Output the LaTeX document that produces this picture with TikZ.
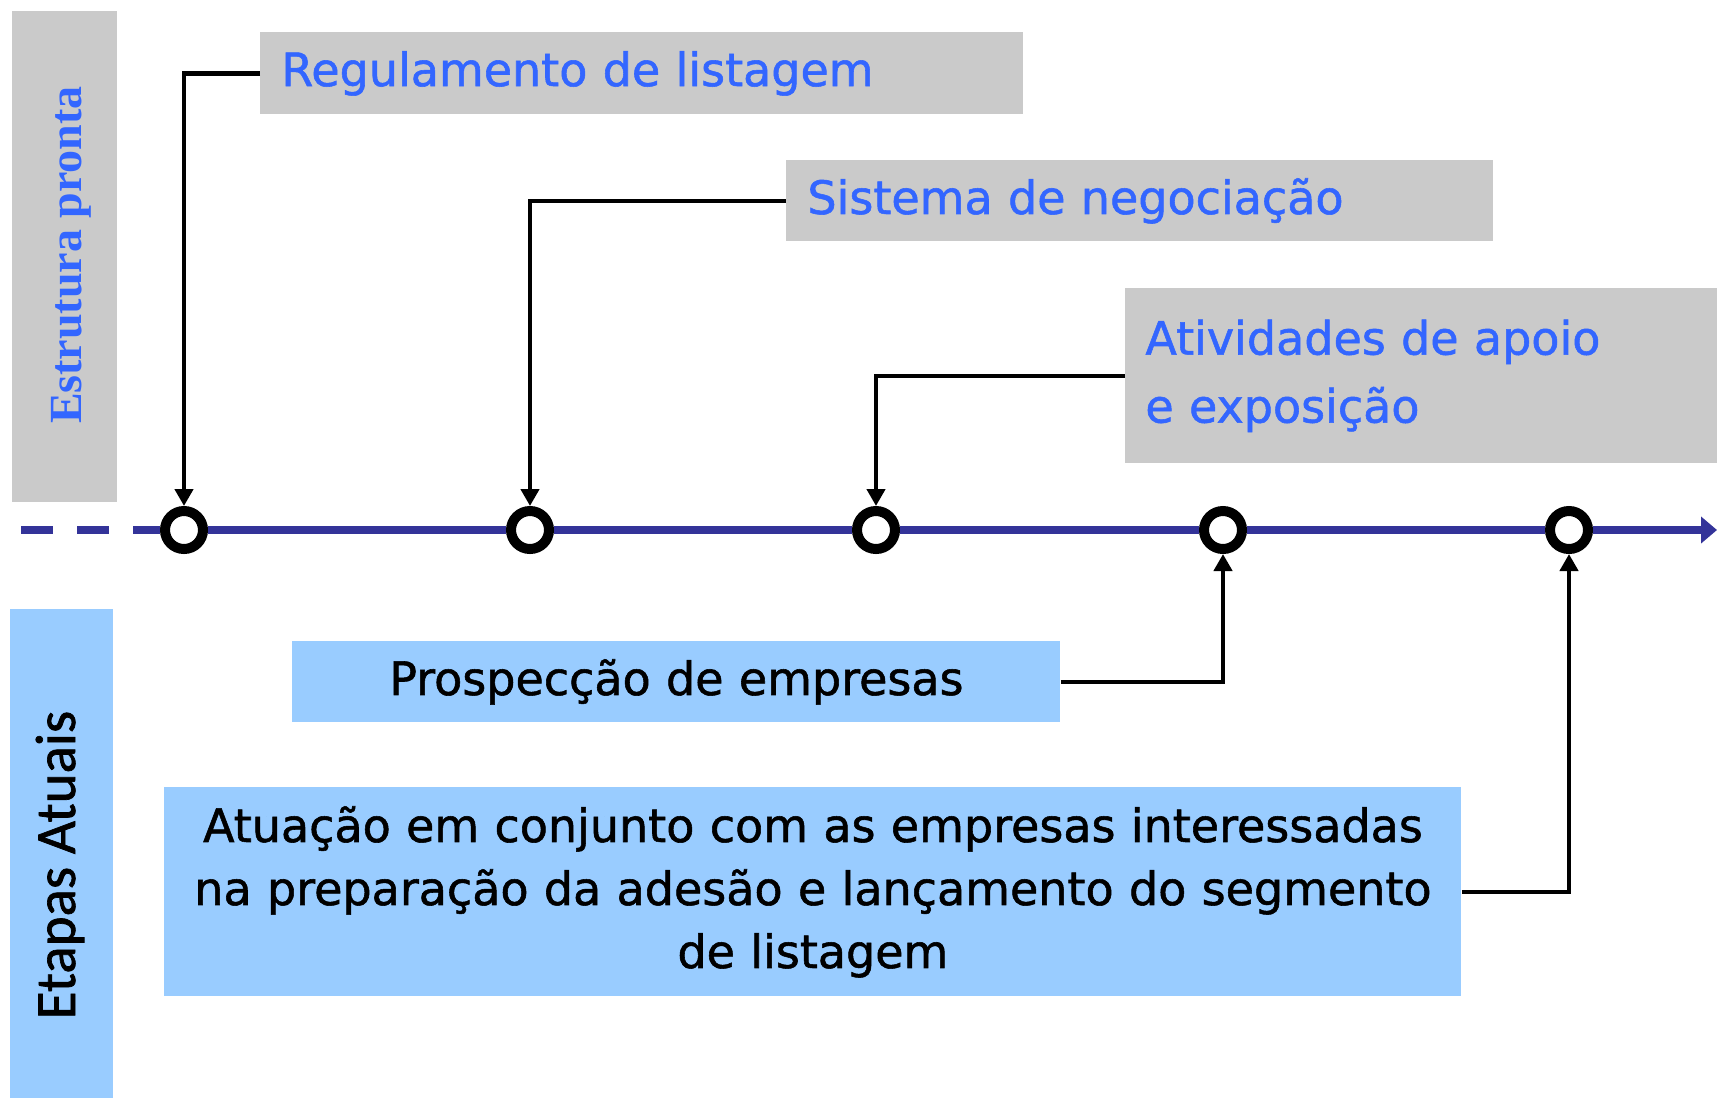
\documentclass[tikz,border=0pt]{standalone}
\usepackage{fontspec}
\usetikzlibrary{arrows.meta}
\newfontfamily\labelfont[FakeBold=1.2]{DejaVu Sans}
\newfontfamily\sidefont{Liberation Serif Bold}
\newfontfamily\stagefont[FakeBold=1.2]{Carlito}
\definecolor{labelblue}{RGB}{51,102,255}
\definecolor{boxblue}{RGB}{153,204,255}
\definecolor{boxgrey}{RGB}{202,202,202}
\definecolor{linenavy}{RGB}{51,51,153}
\begin{document}
\begin{tikzpicture}[x=0.5pt,y=-0.5pt,
	greybox/.style={fill=boxgrey,inner ysep=0pt,anchor=north west,text=labelblue,
		font=\labelfont\fontsize{23}{34}\selectfont,align=left},
	bluebox/.style={fill=boxblue,inner ysep=0pt,anchor=north west,
		font=\labelfont\fontsize{23}{31.5}\selectfont,align=center},
	ring/.style={circle,draw,line width=5pt,fill=white,minimum size=19pt,inner sep=0pt},
	link/.style={line width=2.25pt,-{Triangle[width=9pt,length=8.5pt]}},
	timeline/.style={linenavy,line width=4pt}]
	\useasboundingbox (0,0) rectangle (1717,1098);
	% side bars
	\node[fill=boxgrey,inner sep=0pt,anchor=north west,minimum width=52.5pt,minimum height=245.5pt] (readybar) at (12,11) {};
	\node[rotate=90,text=labelblue,font=\sidefont\fontsize{23}{28}\selectfont] (readytext) at (71,255) {Estrutura pronta};
	\node[fill=boxblue,inner sep=0pt,anchor=north west,minimum width=51.5pt,minimum height=244.5pt] (stagebar) at (10,609) {};
	\node[rotate=90,font=\stagefont\fontsize{28.5}{32}\selectfont] (stagetext) at (60,865) {Etapas Atuais};
	% milestones
	\coordinate (tstart) at (21,530);
	\coordinate (tend) at (1717,530);
	\node[ring] (m1) at (184,530) {};
	\node[ring] (m2) at (530,530) {};
	\node[ring] (m3) at (876,530) {};
	\node[ring] (m4) at (1223,530) {};
	\node[ring] (m5) at (1569,530) {};
	\draw[timeline,dash pattern=on 16pt off 12pt] (tstart) -- (m1);
	\draw[timeline] (m1) -- (m2) -- (m3) -- (m4) -- (m5);
	\draw[timeline,-{Triangle[width=13pt,length=8pt]}] (m5) -- (tend);
	% ready structure
	\node[greybox,inner xsep=10.5pt,text width=360.5pt,minimum height=41pt] (reglist) at (260,32) {Regulamento de listagem};
	\node[greybox,inner xsep=10.5pt,text width=332.5pt,minimum height=40.5pt] (tradesys) at (786,160) {Sistema de negocia\c{c}\~ao};
	\node[greybox,inner xsep=10pt,text width=276pt,minimum height=87.5pt] (support) at (1125,288) {Atividades de apoio\\e exposi\c{c}\~ao};
	\draw[link] (reglist.west) -| (m1);
	\draw[link] (tradesys.west) -| (m2);
	\draw[link] (support.west) -| (m3);
	% current stages
	\node[bluebox,inner xsep=0pt,text width=648.5pt,minimum height=104.5pt] (joint) at (164,787) {Atua\c{c}\~ao em conjunto com as empresas interessadas\\na prepara\c{c}\~ao da ades\~ao e lan\c{c}amento do segmento\\de listagem};
	\node[bluebox,inner xsep=0pt,text width=384pt,minimum height=40.5pt] (prospect) at (292,641) {Prospec\c{c}\~ao de empresas};
	\draw[link] (prospect.east) -| (m4);
	\draw[link] (joint.east) -| (m5);
\end{tikzpicture}
\end{document}
